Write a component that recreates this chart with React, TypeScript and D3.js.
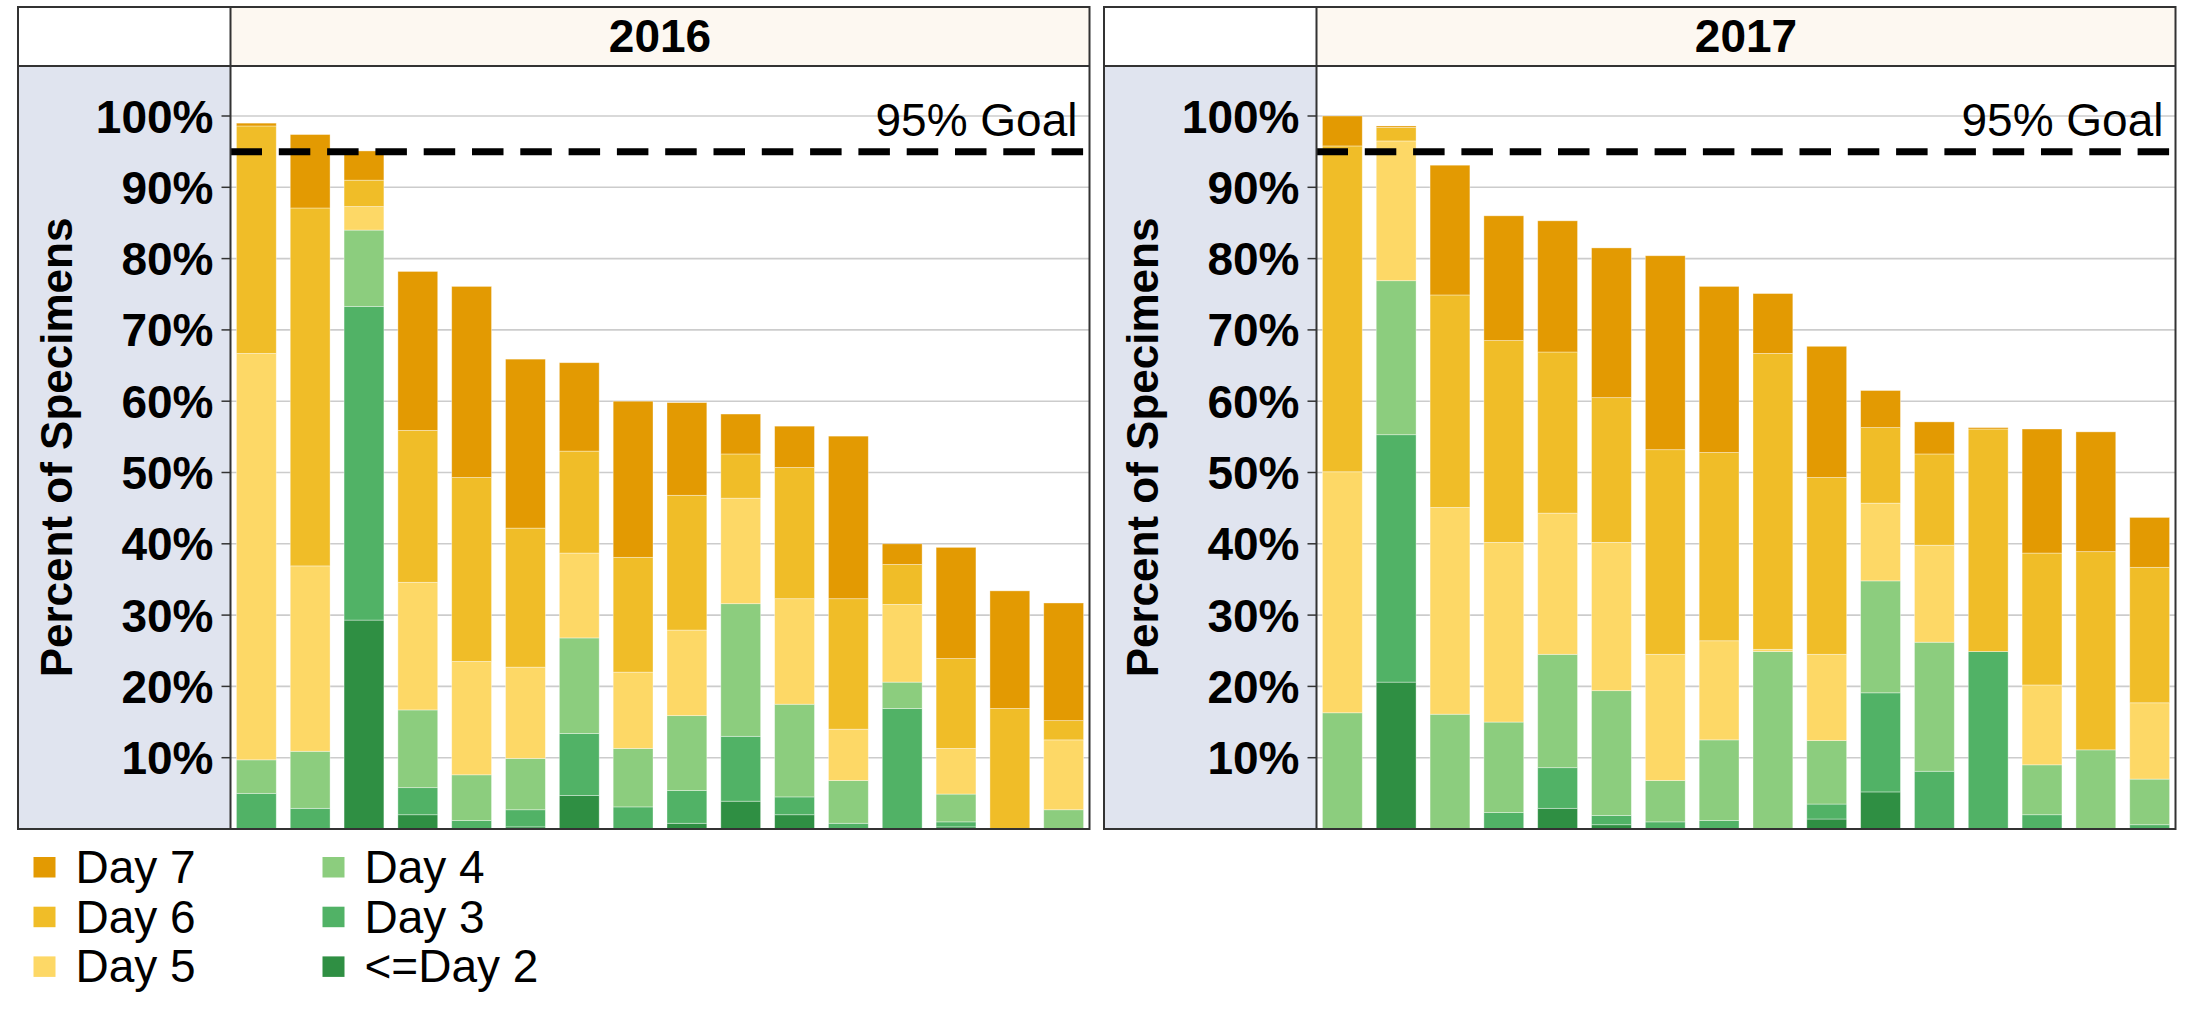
import React from 'react';
import * as d3 from 'd3';

// stack order, bottom to top
const dayKeys = ['<=Day 2', 'Day 3', 'Day 4', 'Day 5', 'Day 6', 'Day 7'];
const dayColors = ['#2F8F43', '#51B266', '#8CCD7E', '#FDD866', '#F0BD28', '#E39A02'];
const years = ['2016', '2017'];
const yTicks = [10, 20, 30, 40, 50, 60, 70, 80, 90, 100];
const tickLabels = ['10%', '20%', '30%', '40%', '50%', '60%', '70%', '80%', '90%', '100%'];
const goal = 95;
const goalLabel = '95% Goal';

// percent of specimens per site (16 sites), one array per day
const day2_2016 = [0, 0, 29.3, 2.0, 0, 0.3, 4.7, 0, 0.8, 3.9, 2.0, 0, 0, 0.3, 0, 0];
const day3_2016 = [5.0, 2.9, 44.0, 3.8, 1.2, 2.4, 8.7, 3.1, 4.6, 9.1, 2.5, 0.8, 16.9, 0.7, 0, 0];
const day4_2016 = [4.7, 8.0, 10.7, 10.9, 6.4, 7.2, 13.4, 8.2, 10.5, 18.6, 13.0, 6.0, 3.7, 3.9, 0, 2.7];
const day5_2016 = [57.0, 26.0, 3.3, 17.9, 15.9, 12.8, 11.9, 10.7, 12.0, 14.8, 14.8, 7.2, 10.9, 6.4, 0, 9.8];
const day6_2016 = [31.9, 50.2, 3.7, 21.3, 25.8, 19.5, 14.3, 16.1, 18.9, 6.2, 18.4, 18.3, 5.6, 12.6, 16.9, 2.7];
const day7_2016 = [0.4, 10.3, 4.1, 22.3, 26.8, 23.7, 12.4, 21.9, 13.0, 5.6, 5.8, 22.8, 2.9, 15.6, 16.5, 16.5];

const day2_2017 = [0, 20.6, 0, 0, 2.9, 0.6, 0, 0, 0, 1.4, 5.2, 0, 0, 0, 0, 0];
const day3_2017 = [0, 34.7, 0, 2.3, 5.7, 1.3, 1.0, 1.2, 0, 2.1, 13.9, 8.1, 24.9, 2.0, 0, 0.6];
const day4_2017 = [16.3, 21.6, 16.1, 12.7, 15.9, 17.5, 5.8, 11.3, 24.9, 8.9, 15.7, 18.1, 0, 7.0, 11.1, 6.4];
const day5_2017 = [33.8, 19.6, 29.0, 25.2, 19.8, 20.8, 17.7, 13.9, 0.3, 12.1, 10.9, 13.6, 0, 11.2, 0, 10.7];
const day6_2017 = [45.7, 1.9, 29.8, 28.3, 22.6, 20.3, 28.7, 26.4, 41.5, 24.8, 10.6, 12.8, 31.2, 18.5, 27.8, 19.0];
const day7_2017 = [4.2, 0.2, 18.2, 17.5, 18.4, 21.0, 27.2, 23.3, 8.4, 18.4, 5.2, 4.5, 0.2, 17.4, 16.8, 7.0];

const series = {
  '2016': [day2_2016, day3_2016, day4_2016, day5_2016, day6_2016, day7_2016],
  '2017': [day2_2017, day3_2017, day4_2017, day5_2017, day6_2017, day7_2017],
};

const W = 2187;
const H = 1014;
const FONT = '"Liberation Sans", Arial, sans-serif';

const panelTop = 7;
const headerBottom = 66;
const plotBottom = 829;
const panelLefts = [18, 1104];
const axisW = 212.5;
const plotW = 859;

const y = d3.scaleLinear().domain([0, 100]).range([plotBottom, 116]);

function Panel({ year, left }: { year: string; left: number }) {
  const x0 = left + axisW;
  const x1 = x0 + plotW;
  const cols = series[year];
  const rows = cols[0].map((_, i) => {
    const r: any = { site: i };
    dayKeys.forEach((k, j) => (r[k] = cols[j][i]));
    return r;
  });
  const stacked = d3.stack().keys(dayKeys)(rows);
  const x = d3
    .scaleBand<number>()
    .domain(rows.map((r) => r.site))
    .range([x0, x1])
    .paddingInner(0.26)
    .paddingOuter(0.11);

  return (
    <g>
      {/* header */}
      <rect x={left} y={panelTop} width={axisW} height={headerBottom - panelTop} fill="#ffffff" />
      <rect x={x0} y={panelTop} width={plotW} height={headerBottom - panelTop} fill="#FDF8F1" />
      <text
        x={(x0 + x1) / 2}
        y={52}
        textAnchor="middle"
        fontFamily={FONT}
        fontWeight="bold"
        fontSize={46}
      >
        {year}
      </text>
      {/* axis area */}
      <rect x={left} y={headerBottom} width={axisW} height={plotBottom - headerBottom} fill="#E0E4EF" />
      <rect x={x0} y={headerBottom} width={plotW} height={plotBottom - headerBottom} fill="#ffffff" />
      <text
        transform={`translate(${left + 54},${(headerBottom + plotBottom) / 2}) rotate(-90)`}
        textAnchor="middle"
        fontFamily={FONT}
        fontWeight="bold"
        fontSize={44}
      >
        Percent of Specimens
      </text>
      {yTicks.map((t, i) => (
        <g key={t}>
          <line x1={x0} x2={x1} y1={y(t)} y2={y(t)} stroke="#CCCCCC" strokeWidth={1.6} />
          <line x1={x0 - 9} x2={x0} y1={y(t)} y2={y(t)} stroke="#333333" strokeWidth={1.5} />
          <text
            x={x0 - 17}
            y={y(t)}
            dy="0.36em"
            textAnchor="end"
            fontFamily={FONT}
            fontWeight="bold"
            fontSize={46}
          >
            {tickLabels[i]}
          </text>
        </g>
      ))}
      {/* bars */}
      {stacked.map((layer, j) => (
        <g key={layer.key} fill={dayColors[j]}>
          {layer.map((d, i) =>
            d[1] - d[0] > 0 ? (
              <rect
                key={i}
                x={x(i)}
                width={x.bandwidth()}
                y={y(d[1])}
                height={y(d[0]) - y(d[1])}
                stroke="rgba(255,255,255,0.45)"
                strokeWidth={0.8}
              />
            ) : null
          )}
        </g>
      ))}
      {/* goal */}
      <line
        x1={x0}
        x2={x1}
        y1={y(goal)}
        y2={y(goal)}
        stroke="#000000"
        strokeWidth={7}
        strokeDasharray="31.5 16.8"
      />
      <text x={x1 - 12} y={136} textAnchor="end" fontFamily={FONT} fontSize={46}>
        {goalLabel}
      </text>
      {/* frame */}
      <rect
        x={left}
        y={panelTop}
        width={x1 - left}
        height={plotBottom - panelTop}
        fill="none"
        stroke="#333333"
        strokeWidth={2}
      />
      <line x1={left} x2={x1} y1={headerBottom} y2={headerBottom} stroke="#333333" strokeWidth={2} />
      <line x1={x0} x2={x0} y1={panelTop} y2={plotBottom} stroke="#333333" strokeWidth={2} />
    </g>
  );
}

const legendCols = [
  ['Day 7', 'Day 6', 'Day 5'],
  ['Day 4', 'Day 3', '<=Day 2'],
];

export default function App() {
  return (
    <svg
      width={W}
      height={H}
      style={{ position: 'absolute', left: 0, top: 0, background: '#ffffff' }}
    >
      <rect width={W} height={H} fill="#ffffff" />
      {years.map((yr, i) => (
        <Panel key={yr} year={yr} left={panelLefts[i]} />
      ))}
      {legendCols.map((col, c) =>
        col.map((k, r) => {
          const lx = c === 0 ? 33.5 : 322.5;
          const ly = 857 + r * 49.7;
          return (
            <g key={k}>
              <rect x={lx} y={ly} width={22} height={20.5} fill={dayColors[dayKeys.indexOf(k)]} />
              <text x={lx + 42} y={ly + 26} fontFamily={FONT} fontSize={46}>
                {k}
              </text>
            </g>
          );
        })
      )}
    </svg>
  );
}
